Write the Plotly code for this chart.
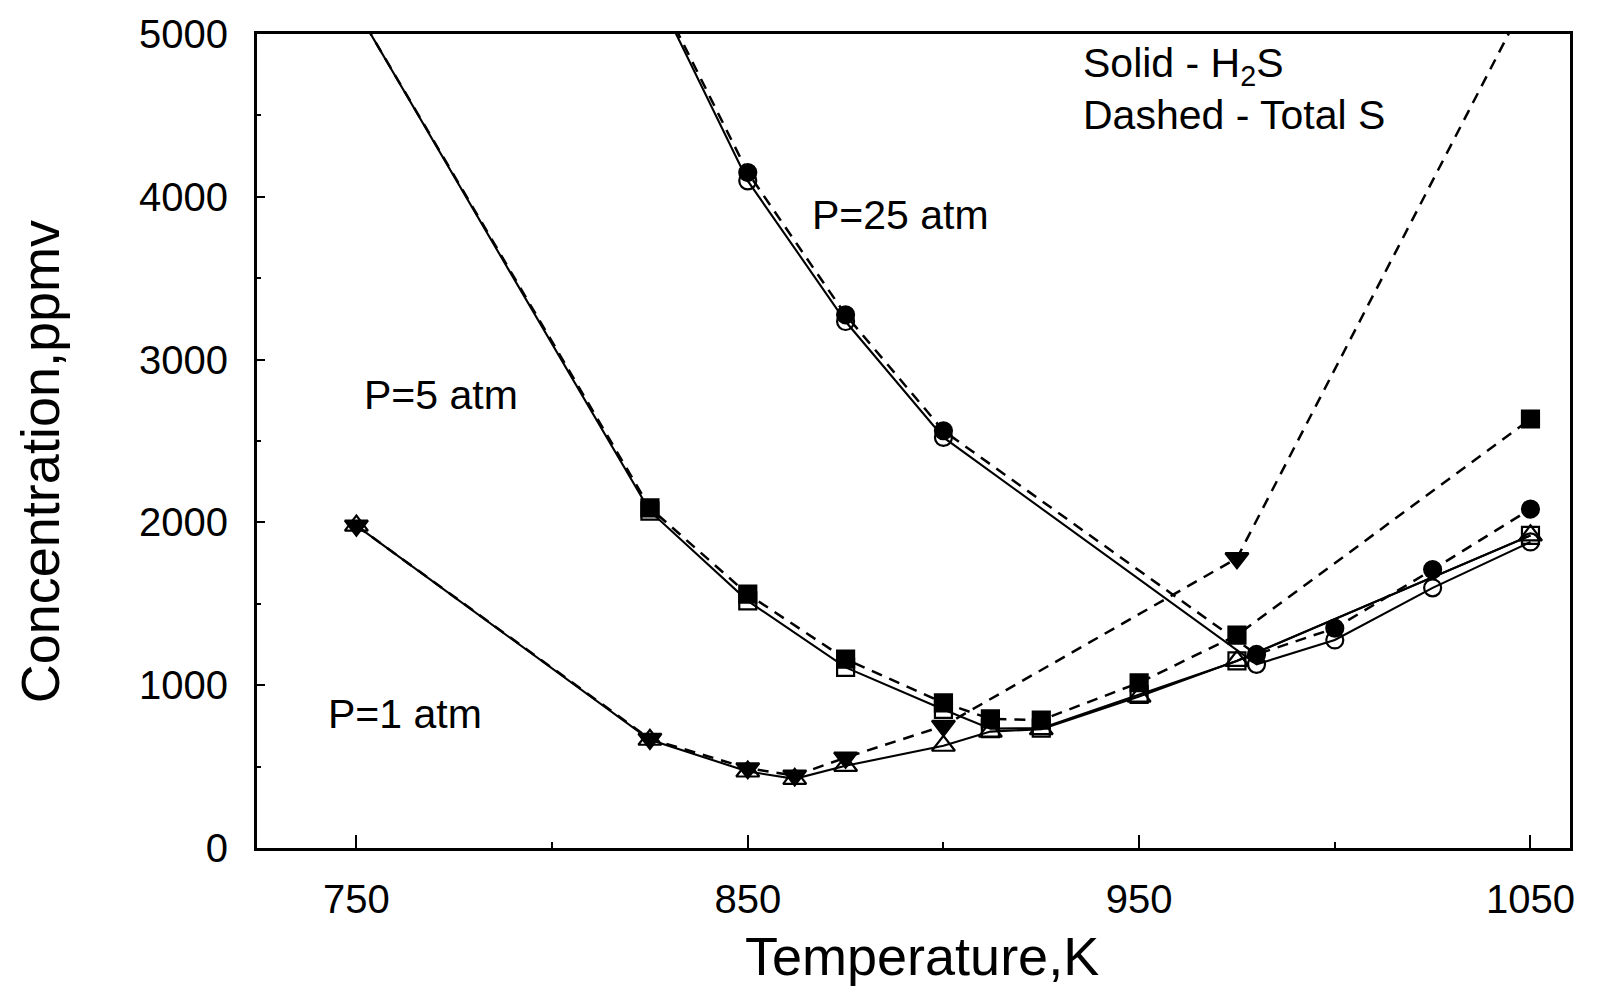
import plotly.graph_objects as go

# ---------------- data ----------------
# P = 1 atm
T_P1_H2S = [750, 825, 850, 862, 875, 900, 912, 925, 950, 975, 1050]
H2S_P1 = [1980, 665, 470, 425, 505, 628, 715, 730, 930, 1150, 1920]
T_P1_TOT = [750, 825, 850, 862, 875, 900, 975, 1050]
TOTAL_S_P1 = [1980, 670, 490, 445, 555, 750, 1780, 5260]

# P = 5 atm
T_P5 = [750, 825, 850, 875, 900, 912, 925, 950, 975, 1050]
H2S_P5 = [5150, 2069, 1518, 1109, 851, 733, 736, 943, 1149, 1920]
TOTAL_S_P5 = [5150, 2089, 1559, 1160, 892, 793, 786, 1015, 1307, 2635]

# P = 25 atm
T_P25 = [825, 850, 875, 900, 980, 1000, 1025, 1050]
H2S_P25 = [5330, 4098, 3234, 2522, 1128, 1278, 1598, 1880]
TOTAL_S_P25 = [5350, 4149, 3275, 2563, 1189, 1350, 1710, 2082]

X_TICKS = [750, 850, 950, 1050]
X_MINOR = [800, 900, 1000]
Y_TICKS = [0, 1000, 2000, 3000, 4000, 5000]
Y_MINOR = [500, 1500, 2500, 3500, 4500]

# ---------------- styling ----------------
FONT = "Liberation Sans, Arial, Helvetica, sans-serif"
BLACK = "#000000"
DASH = "11px,8px"

fig = go.Figure()


def add(x, y, symbol, dashed, size):
    fig.add_trace(go.Scatter(
        x=x, y=y, mode="lines+markers",
        line=dict(color=BLACK, width=2.5 if dashed else 2.1,
                  dash=DASH if dashed else "solid"),
        marker=dict(symbol=symbol, size=size, color=BLACK,
                    line=dict(color=BLACK, width=2.2)),
        showlegend=False, hoverinfo="x+y",
    ))


# dashed = total S (filled markers), solid = H2S (open markers)
add(T_P1_TOT, TOTAL_S_P1, "triangle-down", True, 20)
add(T_P1_H2S, H2S_P1, "triangle-up-open", False, 20)
add(T_P5, TOTAL_S_P5, "square", True, 17)
add(T_P5, H2S_P5, "square-open", False, 17)
add(T_P25, TOTAL_S_P25, "circle", True, 17)
add(T_P25, H2S_P25, "circle-open", False, 17)

L, R, T, B = 257, 1570, 25, 848
W, H = 1597, 991


def px(x):
    return (x - L) / (R - L)


def py(y):
    return (B - y) / (B - T)


annotations = [
    dict(text="Temperature,K", x=px(922), y=py(957), font=dict(size=54)),
    dict(text="Concentration,ppmv", x=px(40), y=py(458), textangle=-90,
         font=dict(size=54)),
    dict(text="P=25 atm", x=px(900), y=py(208), font=dict(size=41)),
    dict(text="P=5 atm", x=px(441), y=py(390), font=dict(size=41)),
    dict(text="P=1 atm", x=px(405), y=py(713), font=dict(size=41)),
    dict(text="Solid - H<sub>2</sub>S", x=px(1081), y=py(57), xanchor="left",
         font=dict(size=41)),
    dict(text="Dashed - Total S", x=px(1081), y=py(107), xanchor="left",
         font=dict(size=41)),
]
for a in annotations:
    a.setdefault("xanchor", "center")
    a.update(xref="paper", yref="paper", yanchor="middle", showarrow=False)
    a["font"].update(family=FONT, color=BLACK)

fig.update_layout(
    width=W, height=H,
    margin=dict(l=L, r=W - R, t=T, b=H - B),
    paper_bgcolor="white", plot_bgcolor="white",
    font=dict(family=FONT, color=BLACK),
    annotations=annotations,
    xaxis=dict(
        range=[724.6, 1060.1], tickvals=X_TICKS, ticks="inside",
        ticklen=13, tickwidth=2, tickcolor=BLACK,
        showline=True, linewidth=3, linecolor=BLACK, mirror=True,
        showgrid=False, zeroline=False,
        tickfont=dict(size=40, family=FONT, color=BLACK),
        ticklabelstandoff=14,
        minor=dict(tickvals=X_MINOR, ticks="inside", ticklen=6,
                   tickwidth=1.5, tickcolor=BLACK, showgrid=False),
    ),
    yaxis=dict(
        range=[0, 5000], tickvals=Y_TICKS, ticks="inside",
        ticklen=8, tickwidth=2, tickcolor=BLACK,
        showline=True, linewidth=3, linecolor=BLACK, mirror=True,
        showgrid=False, zeroline=False,
        tickfont=dict(size=40, family=FONT, color=BLACK),
        ticklabelstandoff=18,
        minor=dict(tickvals=Y_MINOR, ticks="inside", ticklen=4,
                   tickwidth=1.5, tickcolor=BLACK, showgrid=False),
    ),
)

fig.write_html("out.html")
